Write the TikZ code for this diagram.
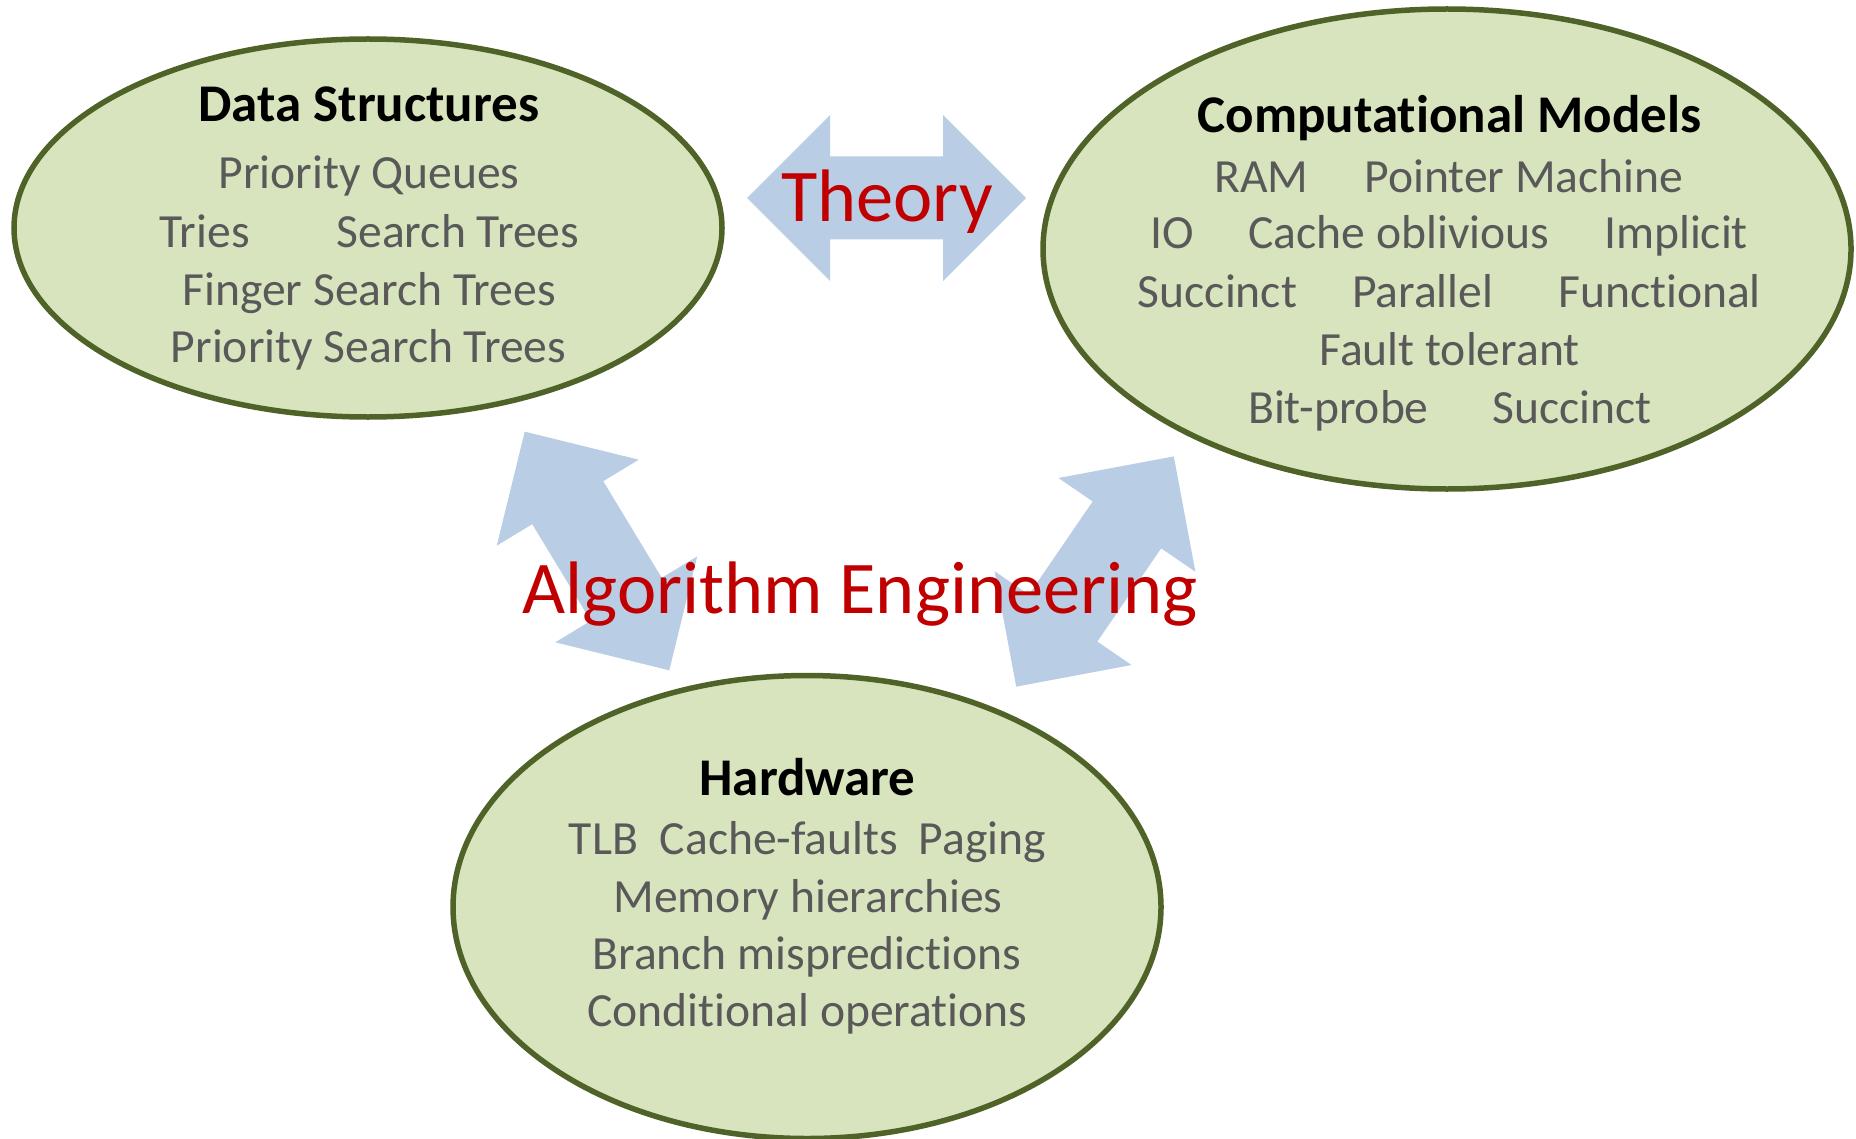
\documentclass[tikz,border=0pt]{standalone}
\usepackage{fontspec}
\setmainfont{Carlito}[Ligatures=NoCommon]
\usetikzlibrary{shapes.geometric}
\definecolor{arrowblue}{HTML}{B9CDE5}
\definecolor{titlered}{HTML}{C00000}
\definecolor{itemgray}{HTML}{595959}
\definecolor{ellfill}{HTML}{D7E4BD}
\definecolor{elldraw}{HTML}{4F6228}
\tikzset{
  blob/.style={ellipse, draw=elldraw, fill=ellfill, line width=2.75pt, inner sep=0pt},
  ttl/.style={anchor=base, inner sep=0pt, text=black, font=\fontsize{26.5}{30}\selectfont\bfseries},
  itm/.style={anchor=base, inner sep=0pt, text=itemgray, font=\fontsize{23.8}{28}\selectfont},
  big/.style={anchor=base, inner sep=0pt, text=titlered, font=\fontsize{37.2}{42}\selectfont},
  dblarrow/.pic={\fill[arrowblue] (-139.5,0) -- (-56.5,83) -- (-56.5,41.5) -- (56.5,41.5) -- (56.5,83)
     -- (139.5,0) -- (56.5,-83) -- (56.5,-41.5) -- (-56.5,-41.5) -- (-56.5,-83) -- cycle;}
}
\begin{document}
\begin{tikzpicture}[x=0.5pt,y=-0.5pt]
\useasboundingbox (0,0) rectangle (1856,1139);
\clip (0,0) rectangle (1856,1139);
% block arrows
\pic at (886.5,198) {dblarrow};
\pic[rotate=121.2] at (597,551) {dblarrow};
\pic[rotate=55.6] at (1095,571.5) {dblarrow};
% ellipses
\node[blob, minimum width=354pt, minimum height=189pt] (ds) at (368,228) {};
\node[blob, minimum width=404pt, minimum height=240pt] (cm) at (1447,249) {};
\node[blob, minimum width=354pt, minimum height=231.5pt] (hw) at (807,907) {};
% Data Structures
\node[ttl] (dst) at (369,122) {Data Structures};
\node[itm] (ds1) at (369,189) {Priority Queues};
\node[itm] (ds2) at (369.3,248) {Tries\hspace{43.5pt}Search Trees};
\node[itm] (ds3) at (369,305) {Finger Search Trees};
\node[itm] (ds4) at (368.5,362) {Priority Search Trees};
% Computational Models
\node[ttl] (cmt) at (1449.5,133) {Computational Models};
\node[itm] (cm1) at (1449,193) {RAM\hspace{28pt}Pointer Machine};
\node[itm] (cm2) at (1449.5,249) {IO\hspace{27pt}Cache oblivious\hspace{27.5pt}Implicit};
\node[itm] (cm3) at (1449.5,307) {Succinct\hspace{27.5pt}Parallel\hspace{32.5pt}Functional};
\node[itm] (cm4) at (1449.5,365) {Fault tolerant};
\node[itm] (cm5) at (1450,423) {Bit-probe\hspace{32pt}Succinct};
% Hardware
\node[ttl] (hwt) at (807.5,795) {Hardware};
\node[itm] (hw1) at (807.5,854) {TLB\hspace{11pt}Cache-faults\hspace{10.5pt}Paging};
\node[itm] (hw2) at (808,912) {Memory hierarchies};
\node[itm] (hw3) at (807,969) {Branch mispredictions};
\node[itm] (hw4) at (807.5,1026) {Conditional operations};
% red labels
\node[big] (theory) at (887,221) {Theory};
\node[big] (alg) at (860,613) {Algorithm Engineering};
\end{tikzpicture}
\end{document}
